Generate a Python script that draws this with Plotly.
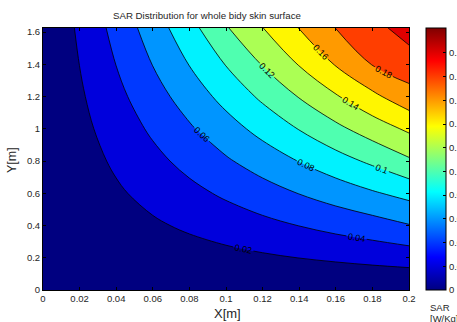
import plotly.graph_objects as go

# ---- data ----
x_vals = [0, 0.02, 0.04, 0.06, 0.08, 0.10, 0.12, 0.14, 0.16, 0.18, 0.20]
y_vals = [0, 0.2, 0.4, 0.6, 0.8, 1.0, 1.2, 1.4, 1.625]
sar_y000 = [0, 0, 0, 0, 0, 0, 0, 0, 0, 0, 0]
sar_y020 = [0, .0029, .0058, .0086, .0115, .0144, .0173, .0202, .0230, .0259, .0288]
sar_y040 = [0, .0058, .0115, .0173, .0230, .0288, .0346, .0403, .0461, .0518, .0590]
sar_y060 = [0, .0086, .0173, .0259, .0346, .0432, .0518, .0605, .0691, .0778, .0862]
sar_y080 = [0, .0115, .0230, .0346, .0461, .0576, .0691, .0806, .0922, .1037, .1170]
sar_y100 = [0, .0144, .0288, .0432, .0576, .0720, .0864, .1008, .1152, .1296, .1435]
sar_y120 = [0, .0173, .0346, .0518, .0691, .0864, .1037, .1210, .1382, .1555, .1725]
sar_y140 = [0, .0202, .0403, .0605, .0806, .1008, .1210, .1411, .1613, .1808, .1910]
sar_y162 = [0, .0233, .0463, .0698, .0931, .1183, .1396, .1605, .1803, .1940, .2080]
sar_grid = [sar_y000, sar_y020, sar_y040, sar_y060, sar_y080, sar_y100,
            sar_y120, sar_y140, sar_y162]

level_start, level_end, level_step = 0.02, 0.20, 0.02
cbar_min, cbar_max = 0.0, 0.221
x_ticks = [0, 0.02, 0.04, 0.06, 0.08, 0.1, 0.12, 0.14, 0.16, 0.18, 0.2]
x_ticklabels = ["0", "0.02", "0.04", "0.06", "0.08", "0.1", "0.12", "0.14", "0.16", "0.18", "0.2"]
y_ticks = [0, 0.2, 0.4, 0.6, 0.8, 1.0, 1.2, 1.4, 1.6]
y_ticklabels = ["0", "0.2", "0.4", "0.6", "0.8", "1", "1.2", "1.4", "1.6"]
cb_ticks = [0, 0.02, 0.04, 0.06, 0.08, 0.1, 0.12, 0.14, 0.16, 0.18, 0.2]
cb_ticklabels = ["0", "0.02", "0.04", "0.06", "0.08", "0.1", "0.12", "0.14", "0.16", "0.18", "0.2"]


def jet(t):
    def c(v):
        return max(0.0, min(1.0, v))
    r = c(1.5 - abs(4 * t - 3))
    g = c(1.5 - abs(4 * t - 2))
    b = c(1.5 - abs(4 * t - 1))
    return "rgb(%d,%d,%d)" % (round(r * 255), round(g * 255), round(b * 255))


jet_scale = [[0, "rgb(0,0,128)"], [0.125, "rgb(0,0,255)"], [0.375, "rgb(0,255,255)"],
             [0.625, "rgb(255,255,0)"], [0.875, "rgb(255,0,0)"], [1, "rgb(128,0,0)"]]

# band k (lower level = k*step) filled like MATLAB: jet(lower level / cmax)
n_bands = 11
fill_scale = [[k / (n_bands - 1), jet(k * level_step / cbar_max)] for k in range(n_bands)]

fig = go.Figure()
fig.add_trace(go.Contour(
    x=x_vals, y=y_vals, z=sar_grid,
    autocontour=False,
    contours=dict(start=level_start, end=level_end, size=level_step,
                  coloring="fill", showlabels=True,
                  labelfont=dict(size=9, color="black", family="Liberation Sans, Arial")),
    colorscale=fill_scale,
    line=dict(color="black", width=0.8, smoothing=1),
    showscale=False, hoverinfo="skip",
))
fig.add_trace(go.Scatter(
    x=[0.1], y=[0.8], mode="markers", hoverinfo="skip", showlegend=False,
    marker=dict(size=0.1, opacity=0, color=[0.1], cmin=cbar_min, cmax=cbar_max,
                colorscale=jet_scale, showscale=True,
                colorbar=dict(x=1.0464, xanchor="left", xpad=0, y=0.5, yanchor="middle",
                              ypad=0, len=1, lenmode="fraction", thickness=20,
                              thicknessmode="pixels", outlinewidth=1, outlinecolor="black",
                              ticks="inside", ticklen=3, tickcolor="black",
                              tickvals=cb_ticks, ticktext=cb_ticklabels,
                              tickfont=dict(size=9.5, color="#262626",
                                            family="Liberation Sans, Arial"))),
))

axis_common = dict(showline=True, linecolor="black", linewidth=1, mirror="ticks",
                   ticks="inside", ticklen=3, tickcolor="black", showgrid=False,
                   zeroline=False, tickfont=dict(size=9.5, color="#262626",
                                                 family="Liberation Sans, Arial"))
fig.update_xaxes(range=[0, 0.2], tickvals=x_ticks, ticktext=x_ticklabels, **axis_common)
fig.update_yaxes(range=[0, 1.625], tickvals=y_ticks, ticktext=y_ticklabels, **axis_common)

font_f = "Liberation Sans, Arial"
fig.update_layout(
    width=457, height=322,
    margin=dict(l=43, r=48, t=28, b=32, autoexpand=False),
    paper_bgcolor="white", plot_bgcolor="white",
    showlegend=False,
    annotations=[
        dict(text="SAR Distribution for whole bidy skin surface", xref="paper", yref="paper",
             x=0.448, y=1.046, xanchor="center", yanchor="middle", showarrow=False,
             font=dict(size=9.7, color="#262626", family=font_f)),
        dict(text="X[m]", xref="paper", yref="paper", x=0.505, y=-0.0916,
             xanchor="center", yanchor="middle", showarrow=False,
             font=dict(size=13, color="#262626", family=font_f)),
        dict(text="Y[m]", xref="paper", yref="paper", x=-0.0847, y=0.496, textangle=-90,
             xanchor="center", yanchor="middle", showarrow=False,
             font=dict(size=12.5, color="#262626", family=font_f)),
        dict(text="SAR", xref="paper", yref="paper", x=1.052, y=-0.065,
             xanchor="left", yanchor="middle", showarrow=False,
             font=dict(size=9.5, color="#262626", family=font_f)),
        dict(text="[W/Kg]", xref="paper", yref="paper", x=1.052, y=-0.107,
             xanchor="left", yanchor="middle", showarrow=False,
             font=dict(size=9.5, color="#262626", family=font_f)),
    ],
)

fig.write_html("out.html", config={"displayModeBar": False},
               post_script="document.body.style.margin='0px';document.body.style.padding='0px';")
